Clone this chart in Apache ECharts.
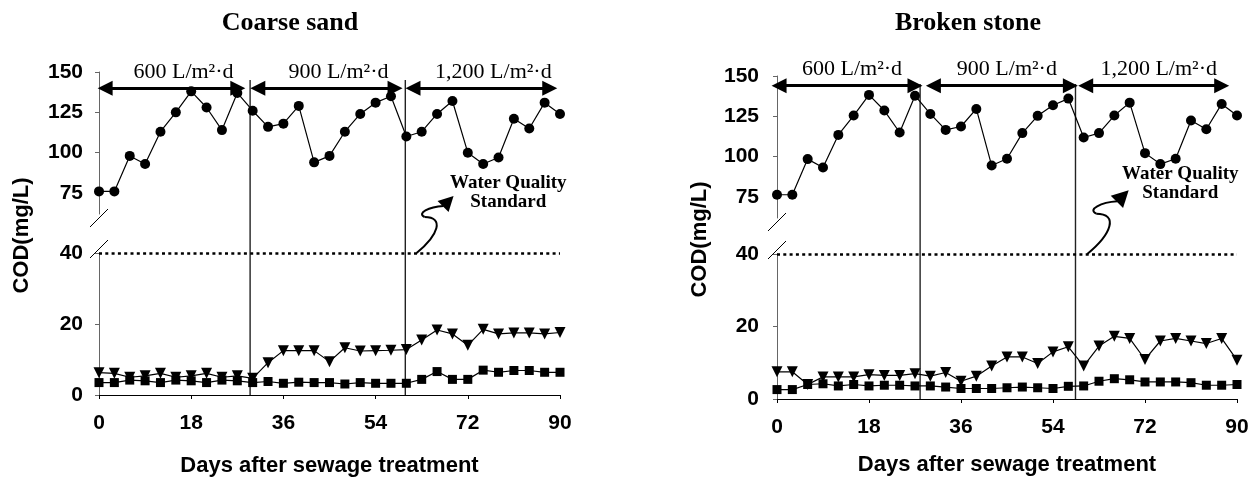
<!DOCTYPE html>
<html>
<head>
<meta charset="utf-8">
<script src="https://cdn.jsdelivr.net/npm/echarts@6/dist/echarts.min.js"></script>
<style>
html, body { margin: 0; padding: 0; background: #fff; }
#main { width: 1258px; height: 479px; }
</style>
</head>
<body>
<div id="main"></div>
<script>
// sampling days (every 3 days)
const days = [0, 3, 6, 9, 12, 15, 18, 21, 24, 27, 30, 33, 36, 39, 42, 45, 48, 51, 54, 57, 60, 63, 66, 69, 72, 75, 78, 81, 84, 87, 90];

// Coarse sand
const sandCircle = [76, 76, 98, 93, 113, 125, 138, 128, 114, 137, 126, 116, 118, 129, 94, 98, 113, 124, 131, 135, 110, 113, 124, 132, 100, 93, 97, 121, 115, 131, 124];
const sandTriangle = [6.3, 6.1, 5, 5.4, 6.1, 5, 5.4, 6.1, 5, 5.4, 4.7, 9.1, 12.5, 12.5, 12.5, 9.4, 13.3, 12.4, 12.5, 12.6, 12.8, 15.5, 18.3, 17.2, 14, 18.5, 17.2, 17.5, 17.5, 17.2, 17.6];
const sandSquare = [3.5, 3.5, 4.2, 4, 3.5, 4.2, 4, 3.5, 4.2, 4, 3.5, 3.8, 3.3, 3.6, 3.5, 3.5, 3.1, 3.5, 3.3, 3.3, 3.3, 4.4, 6.6, 4.4, 4.4, 7, 6.4, 6.9, 6.9, 6.4, 6.4];

// Broken stone
const stoneCircle = [76.4, 76.4, 98.5, 93.3, 113.5, 125.5, 138.3, 128.6, 115, 137.8, 126.5, 116.6, 118.7, 129.6, 94.5, 98.7, 114.6, 125.3, 131.9, 136, 111.9, 114.6, 125.5, 133.5, 102.2, 95.4, 98.7, 122.4, 117, 132.7, 125.5];
const stoneTriangle = [7.5, 7.5, 4, 6.1, 6.1, 6.1, 6.7, 6.5, 6.5, 7, 6.3, 7.3, 4.9, 6.3, 9.1, 11.6, 11.6, 9.8, 13, 14.4, 9.1, 14.6, 17.3, 16.7, 10.9, 16, 16.7, 16, 15.3, 16.7, 10.7];
const stoneSquare = [2.6, 2.6, 4, 4.2, 3.6, 4, 3.6, 3.8, 3.8, 3.6, 3.6, 3.3, 2.9, 2.9, 2.9, 3.1, 3.3, 3.1, 2.9, 3.5, 3.6, 4.9, 5.6, 5.3, 4.7, 4.7, 4.7, 4.5, 3.8, 3.8, 4];

// ticks
const xTicks = [0, 18, 36, 54, 72, 90];
const upperTicks = [75, 100, 125, 150];
const lowerTicks = [0, 20, 40];
const standard = 40;

// loading periods
const periodLabels = ['600 L/m²·d', '900 L/m²·d', '1,200 L/m²·d'];
const sandPeriods = [[1.2, 27.1], [31, 57.8], [61.3, 88]];
const stonePeriods = [[0.4, 27], [30.6, 57.4], [60.4, 87]];
const sandDividers = [29.5, 59.8];
const stoneDividers = [28, 58.4];

const titles = ['Coarse sand', 'Broken stone'];

const sans = 'Liberation Sans';
const serif = 'Liberation Serif';

const pairs = (arr) => days.map((d, i) => [d, arr[i]]);

const grids = [
    { left: 99, top: 72, width: 461, height: 142 },
    { left: 99, top: 253, width: 461, height: 142 },
    { left: 777, top: 76, width: 460, height: 142 },
    { left: 777, top: 254, width: 460, height: 145 }
].map(g => Object.assign({ containLabel: false, outerBoundsMode: 'none' }, g));

const axisLabelStyle = {
    color: '#000',
    fontFamily: sans,
    fontWeight: 'bold',
    fontSize: 21
};

const xAxes = [0, 1, 2, 3].map(i => {
    const lower = i % 2 === 1;
    return {
        type: 'value',
        gridIndex: i,
        min: 0,
        max: 90,
        interval: 18,
        show: lower,
        axisLine: { show: lower, lineStyle: { color: '#000', width: 1 } },
        axisTick: { show: lower, inside: false, length: 4, lineStyle: { color: '#000' }, customValues: xTicks },
        axisLabel: Object.assign({ margin: 18, customValues: xTicks }, axisLabelStyle),
        splitLine: { show: false },
        name: lower ? 'Days after sewage treatment' : '',
        nameLocation: 'middle',
        nameGap: i === 1 ? 60 : 55,
        nameTextStyle: { color: '#000', fontFamily: sans, fontWeight: 'bold', fontSize: 22 }
    };
});

const yAxes = [0, 1, 2, 3].map(i => {
    const lower = i % 2 === 1;
    const ticks = lower ? lowerTicks : upperTicks;
    return {
        type: 'value',
        gridIndex: i,
        min: lower ? 0 : 62,
        max: lower ? 40 : 150,
        axisLine: { show: true, onZero: false, lineStyle: { color: '#666', width: 1 } },
        axisTick: { show: true, length: 4, lineStyle: { color: '#666' }, customValues: ticks },
        axisLabel: Object.assign({ margin: i < 2 ? 16 : 18, customValues: ticks }, axisLabelStyle),
        splitLine: { show: false }
    };
});

const lineStyle = { color: '#000', width: 1.2 };

function arrowMarks(periods, y, shift) {
    return {
        silent: true,
        animation: false,
        symbol: ['triangle', 'triangle'],
        symbolSize: [15, 15],
        lineStyle: { color: '#000', width: 3, type: 'solid' },
        itemStyle: { color: '#000' },
        label: {
            show: true,
            position: 'insideMiddleTop',
            distance: 5,
            formatter: '{b}',
            color: '#000',
            fontFamily: serif,
            fontSize: 22,
            padding: [0, 0, 0, shift]
        },
        emphasis: { disabled: true },
        data: periods.map((p, i) => [
            { name: periodLabels[i], coord: [p[0], y] },
            { coord: [p[1], y] }
        ])
    };
}

const standardMark = {
    silent: true,
    animation: false,
    symbol: ['none', 'none'],
    label: { show: false },
    lineStyle: { color: '#000', width: 2.5, type: [3, 3.3] },
    emphasis: { disabled: true },
    data: [[{ coord: [0, standard] }, { coord: [90, standard] }]]
};

function chartSeries(base, circle, triangle, square, periods, arrowY, shift) {
    return [
        {
            type: 'line', xAxisIndex: base, yAxisIndex: base,
            data: pairs(circle), symbol: 'circle', symbolSize: 10,
            lineStyle, itemStyle: { color: '#000' },
            markLine: arrowMarks(periods, arrowY, shift)
        },
        {
            type: 'line', xAxisIndex: base + 1, yAxisIndex: base + 1,
            data: pairs(triangle), symbol: 'triangle', symbolRotate: 180, symbolSize: 11,
            lineStyle, itemStyle: { color: '#000' },
            markLine: standardMark
        },
        {
            type: 'line', xAxisIndex: base + 1, yAxisIndex: base + 1,
            data: pairs(square), symbol: 'rect', symbolSize: 9,
            lineStyle, itemStyle: { color: '#000' }
        }
    ];
}

const chart = echarts.init(document.getElementById('main'), null, { renderer: 'canvas' });

chart.setOption({
    animation: false,
    backgroundColor: '#fff',
    grid: grids,
    xAxis: xAxes,
    yAxis: yAxes,
    series: [
        ...chartSeries(0, sandCircle, sandTriangle, sandSquare, sandPeriods, 140, 24),
        ...chartSeries(2, stoneCircle, stoneTriangle, stoneSquare, stonePeriods, 144, 10)
    ]
});

// decorations placed from the axes' own scales
const px = (g, x, y) => chart.convertToPixel({ gridIndex: g }, [x, y]);
const graphics = [];
const black = { stroke: '#000', lineWidth: 2 };

function decorate(base, dividers, title, titleX, textPos, squiggleX, scale) {
    const top = px(base, 0, 150);
    const upEnd = px(base, 0, 62);
    const lowTop = px(base + 1, 0, 40);
    const lowEnd = px(base + 1, 0, 0);
    const ax = top[0];

    // title
    graphics.push({
        type: 'text', x: titleX, y: 23,
        style: { text: title, fontFamily: serif, fontWeight: 'bold', fontSize: 26, fill: '#000', align: 'center', verticalAlign: 'middle' }
    });

    // y axis name
    graphics.push({
        type: 'text', x: ax - 77, y: (top[1] + lowEnd[1]) / 2 + 2, rotation: Math.PI / 2,
        style: { text: 'COD(mg/L)', fontFamily: sans, fontWeight: 'bold', fontSize: 22, fill: '#000', align: 'center', verticalAlign: 'middle' }
    });

    // axis break slashes
    [upEnd[1] + 4, lowTop[1] - 4].forEach(cy => {
        graphics.push({
            type: 'line',
            shape: { x1: ax - 9, y1: cy + 9, x2: ax + 9, y2: cy - 9 },
            style: { stroke: '#000', lineWidth: 1 }
        });
    });

    // period dividers
    dividers.forEach(d => {
        const a = px(base, d, 145);
        const b = px(base + 1, d, 0);
        graphics.push({
            type: 'line',
            shape: { x1: a[0], y1: a[1], x2: b[0], y2: b[1] },
            style: { stroke: '#222', lineWidth: 1.4 }
        });
    });

    // water quality standard note
    const t = px(base, textPos[0], textPos[1]);
    graphics.push({
        type: 'text', x: t[0], y: t[1],
        style: { text: 'Water Quality\nStandard', fontFamily: serif, fontWeight: 'bold', fontSize: 19, lineHeight: 19, fill: '#000', align: 'center', verticalAlign: 'middle' }
    });

    // squiggly arrow
    const s = px(base + 1, squiggleX, standard);
    const sx = s[0], sy = s[1];
    const k = scale;
    graphics.push({
        type: 'bezierCurve',
        shape: { x1: sx, y1: sy, cpx1: sx + 22 * k, cpy1: sy - 18 * k, cpx2: sx + 28 * k, cpy2: sy - 36 * k, x2: sx + 8 * k, y2: sy - 36 * k },
        style: Object.assign({ fill: 'none' }, black)
    });
    graphics.push({
        type: 'bezierCurve',
        shape: { x1: sx + 8 * k, y1: sy - 36 * k, cpx1: sx, cpy1: sy - 40 * k, cpx2: sx + 12 * k, cpy2: sy - 46 * k, x2: sx + 27 * k, y2: sy - 47 * k },
        style: Object.assign({ fill: 'none' }, black)
    });
    graphics.push({
        type: 'polygon',
        shape: { points: [[sx + 37 * k, sy - 57 * k], [sx + 32 * k, sy - 41 * k], [sx + 21 * k, sy - 52 * k]] },
        style: { fill: '#000' }
    });
}

decorate(0, sandDividers, titles[0], 290, [79.9, 75.3], 62, 1);
decorate(2, stoneDividers, titles[1], 968, [78.9, 83.1], 60.7, 1.12);

chart.setOption({ graphic: graphics });
</script>
</body>
</html>
